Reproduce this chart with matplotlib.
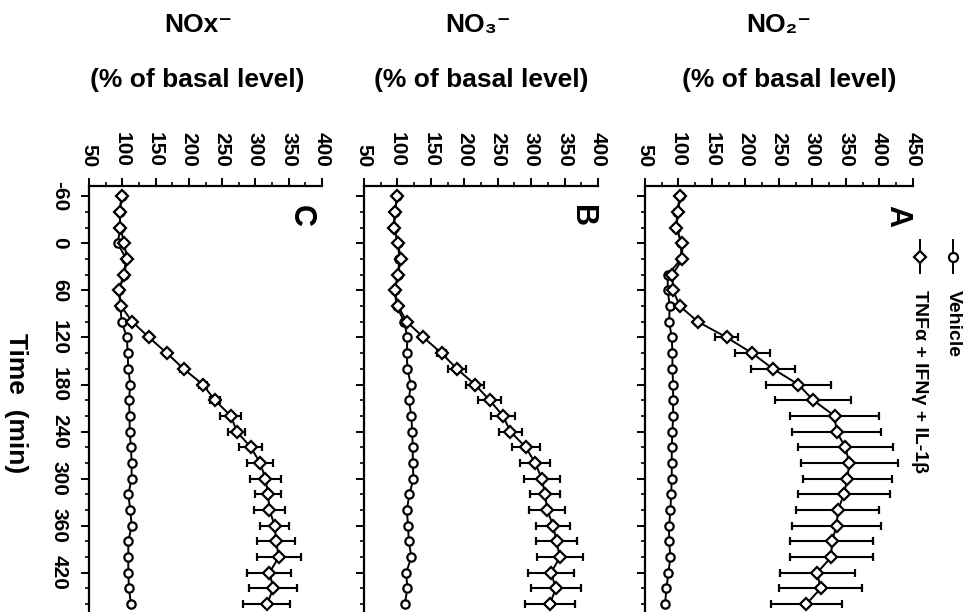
import matplotlib
matplotlib.use('Agg')
import matplotlib.pyplot as plt
from matplotlib.ticker import MultipleLocator

plt.rcParams['font.family'] = ['Liberation Sans', 'DejaVu Sans']
plt.rcParams['font.weight'] = 'bold'
plt.rcParams['axes.unicode_minus'] = False

# time points (min)
time_min = [-60, -40, -20, 0, 20, 40, 60, 80, 100, 120, 140, 160, 180, 200,
            220, 240, 260, 280, 300, 320, 340, 360, 380, 400, 420, 440, 460]
time_ticks = [-60, 0, 60, 120, 180, 240, 300, 360, 420]
time_tick_labels = ['-60', '0', '60', '120', '180', '240', '300', '360', '420']

# A: NO2-
a_vehicle = [102, 98, 97, 104, 104, 84, 84, 87, 86, 90, 91, 91, 92, 92,
             92, 91, 90, 90, 90, 89, 88, 86, 86, 88, 85, 82, 80]
a_treat = [103, 99, 97, 105, 106, 91, 92, 102, 129, 172, 210, 241, 279, 301,
           333, 336, 349, 355, 352, 347, 338, 336, 329, 328, 307, 312, 291]
a_treat_err = [2, 2, 2, 2, 2, 2, 2, 2, 4, 17, 26, 33, 48, 57,
               66, 66, 71, 72, 66, 68, 62, 66, 62, 62, 56, 62, 53]

# B: NO3-
b_vehicle = [100, 96, 95, 101, 103, 101, 96, 99, 110, 115, 114, 115, 120, 117,
             121, 122, 123, 123, 124, 118, 114, 116, 117, 121, 113, 115, 111]
b_treat = [100, 96, 95, 101, 105, 101, 96, 101, 114, 139, 166, 189, 216, 238,
           258, 269, 292, 306, 316, 321, 324, 333, 338, 343, 330, 337, 328]
b_treat_err = [2, 2, 2, 2, 2, 2, 2, 2, 3, 4, 7, 14, 13, 17,
               18, 17, 21, 23, 27, 22, 27, 25, 30, 34, 34, 37, 37]

# C: NOx-
c_vehicle = [99, 96, 97, 93, 106, 102, 95, 97, 99, 107, 108, 109, 112, 110,
             111, 111, 113, 114, 114, 109, 112, 114, 109, 109, 109, 110, 113]
c_treat = [99, 96, 97, 103, 107, 103, 95, 98, 115, 140, 167, 192, 221, 239,
           263, 272, 293, 307, 315, 319, 321, 329, 331, 335, 321, 327, 317]
c_treat_err = [2, 2, 2, 2, 2, 2, 2, 2, 3, 4, 5, 5, 6, 8,
               16, 13, 17, 20, 23, 19, 23, 22, 28, 33, 33, 36, 35]

fig = plt.figure(figsize=(9.75, 6.12), dpi=100)

H = 0.696
ax_c = fig.add_axes([0.0913, 0.0, 0.239, H])
ax_b = fig.add_axes([0.3733, 0.0, 0.240, H])
ax_a = fig.add_axes([0.6615, 0.0, 0.2749, H])


def draw_panel(ax, vehicle, treat, treat_err, xmax, letter, letter_x):
    ax.plot(vehicle, time_min, '-o', color='black', mfc='white', ms=6,
            mew=1.6, lw=1.4, zorder=3)
    ax.errorbar(treat, time_min, xerr=treat_err, fmt='-D', color='black',
                mfc='white', ms=6.5, mew=1.6, lw=1.4, elinewidth=1.5,
                capsize=2.8, capthick=1.5, zorder=4)
    ax.set_xlim(50, xmax)
    ax.set_ylim(470, -73)
    ax.xaxis.tick_top()
    ax.set_xticks(range(50, xmax + 1, 50))
    ax.xaxis.set_minor_locator(MultipleLocator(25))
    ax.set_yticks(time_ticks)
    ax.yaxis.set_minor_locator(MultipleLocator(20))
    for s in ['right', 'bottom']:
        ax.spines[s].set_visible(False)
    for s in ['top', 'left']:
        ax.spines[s].set_linewidth(1.6)
    ax.tick_params(axis='x', which='major', length=5.5, width=1.4,
                   labelrotation=-90, labelsize=15, pad=8)
    ax.tick_params(axis='x', which='minor', length=3, width=1.2)
    ax.tick_params(axis='y', which='major', length=5.5, width=1.4)
    ax.tick_params(axis='y', which='minor', length=3, width=1.2)
    ax.text(letter_x, 0.93, letter, transform=ax.transAxes, rotation=-90,
            ha='center', va='center', fontsize=22)


draw_panel(ax_c, c_vehicle, c_treat, c_treat_err, 400, 'C', 0.91)
draw_panel(ax_b, b_vehicle, b_treat, b_treat_err, 400, 'B', 0.93)
draw_panel(ax_a, a_vehicle, a_treat, a_treat_err, 450, 'A', 0.94)

ax_c.set_yticklabels(time_tick_labels)
ax_c.tick_params(axis='y', labelrotation=-90, labelsize=15, pad=9)
for lab in ax_c.get_yticklabels():
    lab.set_va('center')
ax_b.tick_params(axis='y', labelleft=False)
ax_a.tick_params(axis='y', labelleft=False)

fig.text(0.016, 0.342, 'Time  (min)', rotation=-90, ha='center',
         va='center', fontsize=19)

# titles
fig.text(0.203, 0.959, 'NOx⁻', ha='center', va='center', fontsize=19)
fig.text(0.202, 0.869, '(% of basal level)', ha='center', va='center', fontsize=19)
fig.text(0.490, 0.959, 'NO₃⁻', ha='center', va='center', fontsize=19)
fig.text(0.494, 0.869, '(% of basal level)', ha='center', va='center', fontsize=19)
fig.text(0.799, 0.959, 'NO₂⁻', ha='center', va='center', fontsize=19)
fig.text(0.810, 0.869, '(% of basal level)', ha='center', va='center', fontsize=19)

# legend (rotated, drawn by hand)
legend_items = [('TNFα + IFNγ + IL-1β', 'D', 1.026), ('Vehicle', 'o', 1.149)]
for label, mk, lx in legend_items:
    ax_a.plot([lx, lx], [0.796, 0.873], transform=ax_a.transAxes,
              clip_on=False, color='black', lw=1.4)
    ax_a.plot([lx], [0.834], marker=mk, transform=ax_a.transAxes,
              clip_on=False, color='black', mfc='white', ms=6.5, mew=1.6)
    ax_a.text(lx, 0.756, label, transform=ax_a.transAxes, rotation=-90,
              ha='center', va='top', fontsize=14)

fig.savefig('out.png', dpi=100)
